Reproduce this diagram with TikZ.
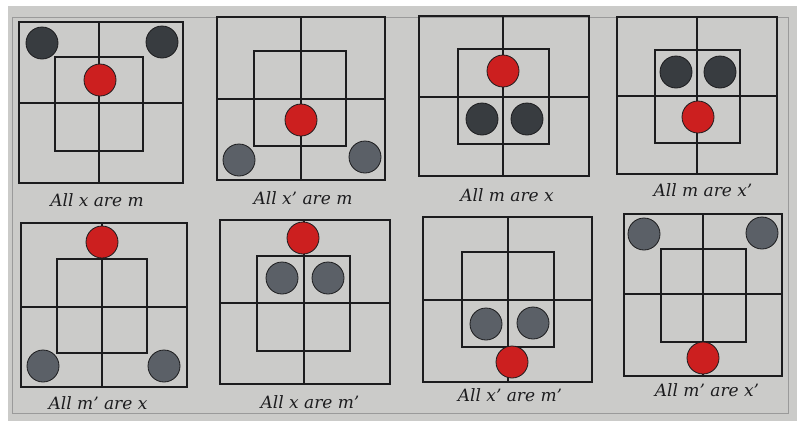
\documentclass[tikz,border=0pt]{standalone}
\usepackage{fontspec}
\setmainfont{DejaVu Serif}
\definecolor{panel}{HTML}{CBCBC9}
\definecolor{framec}{HTML}{9A9A9A}
\definecolor{ink}{HTML}{1C1C1E}
\definecolor{redc}{HTML}{CC1F1F}
\definecolor{darkc}{HTML}{383C40}
\definecolor{greyc}{HTML}{5B6067}
\tikzset{
  grid/.style={draw=ink, line width=1.4pt},
  dot/.style={circle, draw=ink, line width=0.8pt, minimum size=32pt, inner sep=0pt},
  reddot/.style={dot, fill=redc},
  darkdot/.style={dot, fill=darkc},
  greydot/.style={dot, fill=greyc},
  lbl/.style={font=\fontsize{17}{20}\selectfont\itshape, text=ink, inner sep=0pt}
}
% outer box, inner box, vertical line
\newcommand{\carrolldiag}[9]{%
  \draw[grid] (#1,#2) rectangle (#3,#4);
  \draw[grid] (#5,#6) rectangle (#7,#8);
  \draw[grid] (#9,#2) -- (#9,#4);
}
\begin{document}
\begin{tikzpicture}[x=1pt,y=-1pt]
\useasboundingbox (0,0) rectangle (797,421);
\fill[white] (0,0) rectangle (797,421);
\fill[panel] (8,6) rectangle (797,421);
\draw[framec, line width=0.8pt] (12,17) rectangle (788,413);

% D1
\carrolldiag{19}{22}{183}{183}{55}{57}{143}{151}{99}
\draw[grid] (19,103) -- (183,103);
\node[darkdot] (d1a) at (42,43) {};
\node[darkdot] (d1b) at (162,42) {};
\node[reddot] (d1r) at (100,80) {};
\node[lbl] (l1) at (97,200) {All x are m};

% D2
\carrolldiag{217}{17}{385}{180}{254}{51}{346}{146}{301}
\draw[grid] (217,99) -- (385,99);
\node[reddot] (d2r) at (301,120) {};
\node[greydot] (d2a) at (239,160) {};
\node[greydot] (d2b) at (365,157) {};
\node[lbl] (l2) at (303,198) {All x' are m};

% D3
\carrolldiag{419}{16}{589}{176}{458}{49}{549}{144}{503}
\draw[grid] (419,97) -- (589,97);
\node[reddot] (d3r) at (503,71) {};
\node[darkdot] (d3a) at (482,119) {};
\node[darkdot] (d3b) at (527,119) {};
\node[lbl] (l3) at (507,195) {All m are x};

% D4
\carrolldiag{617}{17}{777}{174}{655}{50}{740}{143}{697}
\draw[grid] (617,96) -- (777,96);
\node[darkdot] (d4a) at (676,72) {};
\node[darkdot] (d4b) at (720,72) {};
\node[reddot] (d4r) at (698,117) {};
\node[lbl] (l4) at (703,190) {All m are x'};

% D5
\carrolldiag{21}{223}{187}{387}{57}{259}{147}{353}{102}
\draw[grid] (21,307) -- (187,307);
\node[reddot] (d5r) at (102,242) {};
\node[greydot] (d5a) at (43,366) {};
\node[greydot] (d5b) at (164,366) {};
\node[lbl] (l5) at (98,403) {All m' are x};

% D6
\carrolldiag{220}{220}{390}{384}{257}{256}{350}{351}{304}
\draw[grid] (220,303) -- (390,303);
\node[reddot] (d6r) at (303,238) {};
\node[greydot] (d6a) at (282,278) {};
\node[greydot] (d6b) at (328,278) {};
\node[lbl] (l6) at (310,402) {All x are m'};

% D7
\carrolldiag{423}{217}{592}{382}{462}{252}{554}{347}{508}
\draw[grid] (423,300) -- (592,300);
\node[greydot] (d7a) at (486,324) {};
\node[greydot] (d7b) at (533,323) {};
\node[reddot] (d7r) at (512,362) {};
\node[lbl] (l7) at (510,395) {All x' are m'};

% D8
\carrolldiag{624}{214}{782}{376}{661}{249}{746}{342}{703}
\draw[grid] (624,294) -- (782,294);
\node[greydot] (d8a) at (644,234) {};
\node[greydot] (d8b) at (762,233) {};
\node[reddot] (d8r) at (703,358) {};
\node[lbl] (l8) at (707,390) {All m' are x'};
\end{tikzpicture}
\end{document}
